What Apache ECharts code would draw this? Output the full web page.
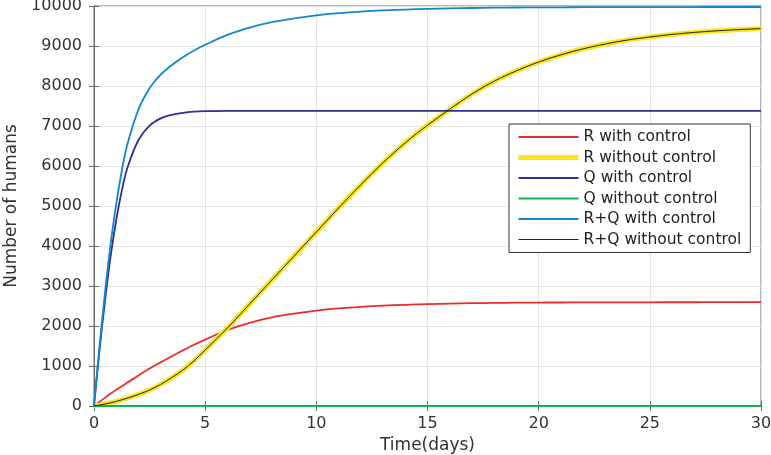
<!DOCTYPE html>
<html>
<head>
<meta charset="utf-8">
<script src="https://cdn.jsdelivr.net/npm/echarts@6/dist/echarts.min.js"></script>
<style>html,body{margin:0;padding:0;background:#fff}#c{width:771px;height:455px}</style>
</head>
<body>
<div id="c"></div>
<script>
const days = [0,0.25,0.5,0.75,1,1.25,1.5,2,2.5,3,3.5,4,4.5,5,6,7,8,9,10,11,12,13,14,15,16,17,18,19,20,21,22,23,24,25,26,27,28,29,30];
const rWith = [0,105,210,310,405,495,585,765,935,1095,1245,1390,1530,1660,1900,2080,2215,2310,2385,2440,2480,2510,2530,2548,2560,2570,2577,2582,2586,2588,2590,2591,2592,2593,2594,2594,2595,2595,2595];
const rWithout = [0,25,50,80,115,155,195,290,400,540,710,900,1130,1400,1950,2550,3150,3750,4350,4950,5530,6080,6580,7020,7420,7800,8120,8380,8600,8780,8930,9050,9150,9225,9290,9340,9380,9410,9435];
const qWith = [0,1400,2650,3750,4650,5380,5950,6650,7010,7190,7280,7330,7358,7370,7378,7380,7380,7380,7380,7380,7380,7380,7380,7380,7380,7380,7380,7380,7380,7380,7380,7380,7380,7380,7380,7380,7380,7380,7380];
const qWithout = [0,0,0,0,0,0,0,0,0,0,0,0,0,0,0,0,0,0,0,0,0,0,0,0,0,0,0,0,0,0,0,0,0,0,0,0,0,0,0];
const rqWith = [0,1505,2860,4060,5055,5875,6535,7415,7945,8285,8525,8720,8888,9030,9278,9460,9595,9690,9765,9820,9860,9890,9910,9928,9940,9950,9957,9962,9966,9968,9970,9971,9972,9973,9974,9974,9975,9975,9975];
const rqWithout = [0,25,50,80,115,155,195,290,400,540,710,900,1130,1400,1950,2550,3150,3750,4350,4950,5530,6080,6580,7020,7420,7800,8120,8380,8600,8780,8930,9050,9150,9225,9290,9340,9380,9410,9435];
const names = ['R with control','R without control','Q with control','Q without control','R+Q with control','R+Q without control'];
const xLabel = 'Time(days)';
const yLabel = 'Number of humans';

const font = 'DejaVu Sans';
const colors = ['#ee2a2a','#f9e51c','#2e3192','#16b34d','#1188cc','#222222'];
const widths = [1.8,5,1.8,2,1.8,1];
const legendWidths = [1.8,5,1.8,2.2,2.2,1.2];
function pts(arr){ return days.map((t,i)=>[t,arr[i]]); }
function mk(i, arr){
  return {name:names[i], type:'line', data:pts(arr), symbol:'none', smooth:0.35,
    lineStyle:{color:colors[i], width:widths[i]}, itemStyle:{color:colors[i]}, z:2+i,
    xAxisIndex:0, yAxisIndex:0};
}
const axColor = '#6b6b6b';
const chart = echarts.init(document.getElementById('c'), null, {renderer:'canvas'});
chart.setOption({
  animation:false,
  backgroundColor:'#fff',
  grid:{left:94, right:10, top:6, bottom:49, outerBoundsMode:'none', containLabel:false,
    show:true, borderColor:axColor, borderWidth:1},
  xAxis:[{type:'value', min:0, max:30, interval:5, position:'bottom',
    name:xLabel, nameLocation:'middle', nameGap:31,
    nameTextStyle:{fontFamily:font, fontSize:17, color:'#333'},
    axisLine:{show:true, lineStyle:{color:axColor}},
    axisTick:{show:true, inside:true, length:5, lineStyle:{color:axColor}},
    axisLabel:{fontFamily:font, fontSize:16, color:'#333', margin:10, formatter:v=>String(v)},
    splitLine:{show:true, lineStyle:{color:'#e4e4e4', width:1}}},
   {type:'value', min:0, max:30, interval:5, position:'top',
    axisLine:{show:true, lineStyle:{color:axColor}},
    axisTick:{show:true, inside:true, length:5, lineStyle:{color:axColor}},
    axisLabel:{show:false}, splitLine:{show:false}}],
  yAxis:[{type:'value', min:0, max:10000, interval:1000, position:'left',
    name:yLabel, nameLocation:'middle', nameGap:73, nameRotate:90,
    nameTextStyle:{fontFamily:font, fontSize:17, color:'#333'},
    axisLine:{show:true, lineStyle:{color:axColor}},
    axisTick:{show:true, inside:true, length:5, lineStyle:{color:axColor}},
    axisLabel:{fontFamily:font, fontSize:16, color:'#333', margin:12, formatter:v=>String(v)},
    splitLine:{show:true, lineStyle:{color:'#e4e4e4', width:1}}},
   {type:'value', min:0, max:10000, interval:1000, position:'right',
    axisLine:{show:true, lineStyle:{color:axColor}},
    axisTick:{show:true, inside:true, length:5, lineStyle:{color:axColor}},
    axisLabel:{show:false}, splitLine:{show:false}}],
  legend:{orient:'vertical', left:509, top:124,
    data:names.map((n,i)=>({name:n, lineStyle:{width:legendWidths[i], color:colors[i]}})),
    backgroundColor:'#fff', borderColor:'#333', borderWidth:1, borderRadius:0,
    padding:[5,9,5,7], itemWidth:60, itemHeight:14, itemGap:4.5,
    itemStyle:{opacity:0},
    textStyle:{fontFamily:font, fontSize:15.5, color:'#222'}},
  series:[
    mk(0, rWith), mk(1, rWithout), mk(2, qWith), mk(3, qWithout), mk(4, rqWith), mk(5, rqWithout)
  ]
});
</script>
</body>
</html>
